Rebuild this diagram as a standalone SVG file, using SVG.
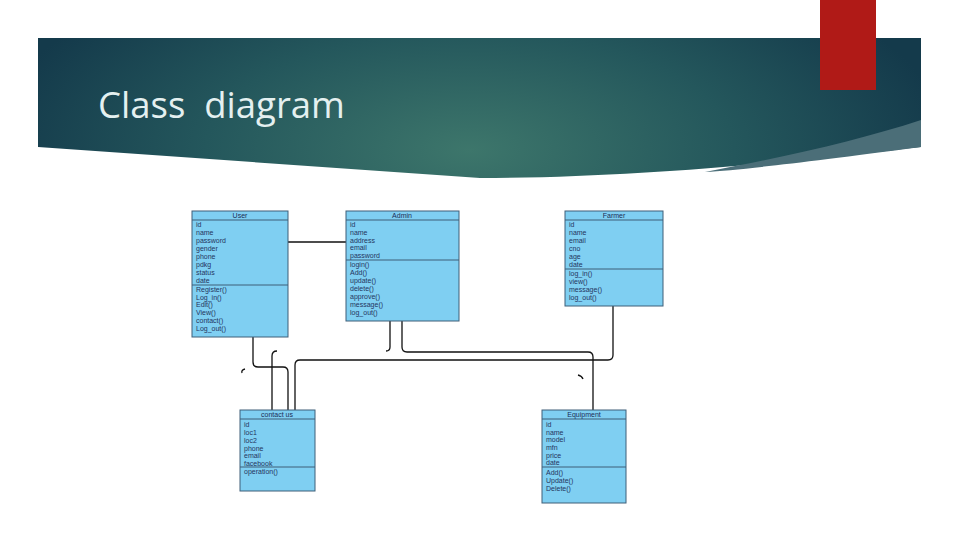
<svg xmlns="http://www.w3.org/2000/svg" width="960" height="540" viewBox="0 0 960 540">
<defs>
<radialGradient id="bg" cx="470" cy="150" r="480" gradientUnits="userSpaceOnUse" gradientTransform="translate(470 150) scale(1 0.45) translate(-470 -150)">
<stop offset="0" stop-color="#3d766b"/>
<stop offset="0.55" stop-color="#24575c"/>
<stop offset="1" stop-color="#143a4b"/>
</radialGradient>
</defs>
<style>
.box{fill:#7fcff2;stroke:#3f5f78;stroke-width:1}
.ln{stroke:#3f5f78;stroke-width:1}
.t{font-family:"Liberation Sans",Arial,sans-serif;font-size:7px;fill:#25355e}
.h{font-family:"Liberation Sans",Arial,sans-serif;font-size:7px;fill:#1c2c55;text-anchor:middle}
.c{fill:none;stroke:#111;stroke-width:1.3}
</style>
<rect width="960" height="540" fill="#fff"/>
<g id="banner">
<path d="M38,38 H921 V147 C840,156 660,178 480,178 L38,147 Z" fill="url(#bg)"/>
<path d="M921,120 C860,140 790,156 705,172 C740,170 800,163 921,147 Z" fill="#4b6e78"/>
<rect x="820" y="0" width="56" height="90" fill="#b01a17"/>
<text x="98" y="118" font-family="'Open Sans','Noto Sans',sans-serif" font-size="36.5" fill="#e4f0f0" style="white-space:pre">Class  diagram</text>
</g>
<g id="connectors">
<path class="c" d="M288,242 H346"/>
<path class="c" d="M253,337 V362 Q253,367 258,367 H283 Q288,367 288,372 V410"/>
<path class="c" d="M272,410 V356 Q272,351 277,351"/>
<path class="c" d="M295,410 V365 Q295,360 300,360 H608 Q613,360 613,355 V306"/>
<path class="c" d="M390,321 V347 Q390,351 386,351"/>
<path class="c" d="M402,321 V347 Q402,352 407,352 H588 Q593,352 593,357 V410"/>
<path class="c" d="M245,369 Q241,370 242,373" stroke-width="0.9"/>
<path class="c" d="M578,375 Q582,376 583,379" stroke-width="0.9"/>
</g>
<g id="user">
<rect class="box" x="192" y="211" width="96" height="126"/>
<line class="ln" x1="192" y1="220" x2="288" y2="220"/>
<line class="ln" x1="192" y1="285" x2="288" y2="285"/>
<text class="h" x="240" y="218">User</text>
<text class="t" x="196" y="227">id</text>
<text class="t" x="196" y="235">name</text>
<text class="t" x="196" y="243">password</text>
<text class="t" x="196" y="251">gender</text>
<text class="t" x="196" y="259">phone</text>
<text class="t" x="196" y="267">pdkg</text>
<text class="t" x="196" y="275">status</text>
<text class="t" x="196" y="283">date</text>
<text class="t" x="196" y="292">Register()</text>
<text class="t" x="196" y="300">Log_in()</text>
<text class="t" x="196" y="307">Edit()</text>
<text class="t" x="196" y="315">View()</text>
<text class="t" x="196" y="323">contact()</text>
<text class="t" x="196" y="331">Log_out()</text>
</g>
<g id="admin">
<rect class="box" x="346" y="211" width="113" height="110"/>
<line class="ln" x1="346" y1="220" x2="459" y2="220"/>
<line class="ln" x1="346" y1="260" x2="459" y2="260"/>
<text class="h" x="402" y="218">Admin</text>
<text class="t" x="350" y="227">id</text>
<text class="t" x="350" y="235">name</text>
<text class="t" x="350" y="243">address</text>
<text class="t" x="350" y="250">email</text>
<text class="t" x="350" y="258">password</text>
<text class="t" x="350" y="267">login()</text>
<text class="t" x="350" y="275">Add()</text>
<text class="t" x="350" y="283">update()</text>
<text class="t" x="350" y="291">delete()</text>
<text class="t" x="350" y="299">approve()</text>
<text class="t" x="350" y="307">message()</text>
<text class="t" x="350" y="315">log_out()</text>
</g>
<g id="farmer">
<rect class="box" x="565" y="211" width="98" height="95"/>
<line class="ln" x1="565" y1="220" x2="663" y2="220"/>
<line class="ln" x1="565" y1="269" x2="663" y2="269"/>
<text class="h" x="614" y="218">Farmer</text>
<text class="t" x="569" y="227">id</text>
<text class="t" x="569" y="235">name</text>
<text class="t" x="569" y="243">email</text>
<text class="t" x="569" y="251">cno</text>
<text class="t" x="569" y="259">age</text>
<text class="t" x="569" y="267">date</text>
<text class="t" x="569" y="276">log_in()</text>
<text class="t" x="569" y="284">view()</text>
<text class="t" x="569" y="292">message()</text>
<text class="t" x="569" y="300">log_out()</text>
</g>
<g id="contact">
<rect class="box" x="240" y="410" width="75" height="81"/>
<line class="ln" x1="240" y1="419" x2="315" y2="419"/>
<line class="ln" x1="240" y1="467" x2="315" y2="467"/>
<text class="h" x="277" y="417">contact us</text>
<text class="t" x="244" y="427">id</text>
<text class="t" x="244" y="435">loc1</text>
<text class="t" x="244" y="443">loc2</text>
<text class="t" x="244" y="451">phone</text>
<text class="t" x="244" y="458">email</text>
<text class="t" x="244" y="466">facebook</text>
<text class="t" x="244" y="474">operation()</text>
</g>
<g id="equipment">
<rect class="box" x="542" y="410" width="84" height="93"/>
<line class="ln" x1="542" y1="419" x2="626" y2="419"/>
<line class="ln" x1="542" y1="467" x2="626" y2="467"/>
<text class="h" x="584" y="417">Equipment</text>
<text class="t" x="546" y="427">id</text>
<text class="t" x="546" y="435">name</text>
<text class="t" x="546" y="442">model</text>
<text class="t" x="546" y="450">mfn</text>
<text class="t" x="546" y="458">price</text>
<text class="t" x="546" y="465">date</text>
<text class="t" x="546" y="475">Add()</text>
<text class="t" x="546" y="483">Update()</text>
<text class="t" x="546" y="491">Delete()</text>
</g>
</svg>
